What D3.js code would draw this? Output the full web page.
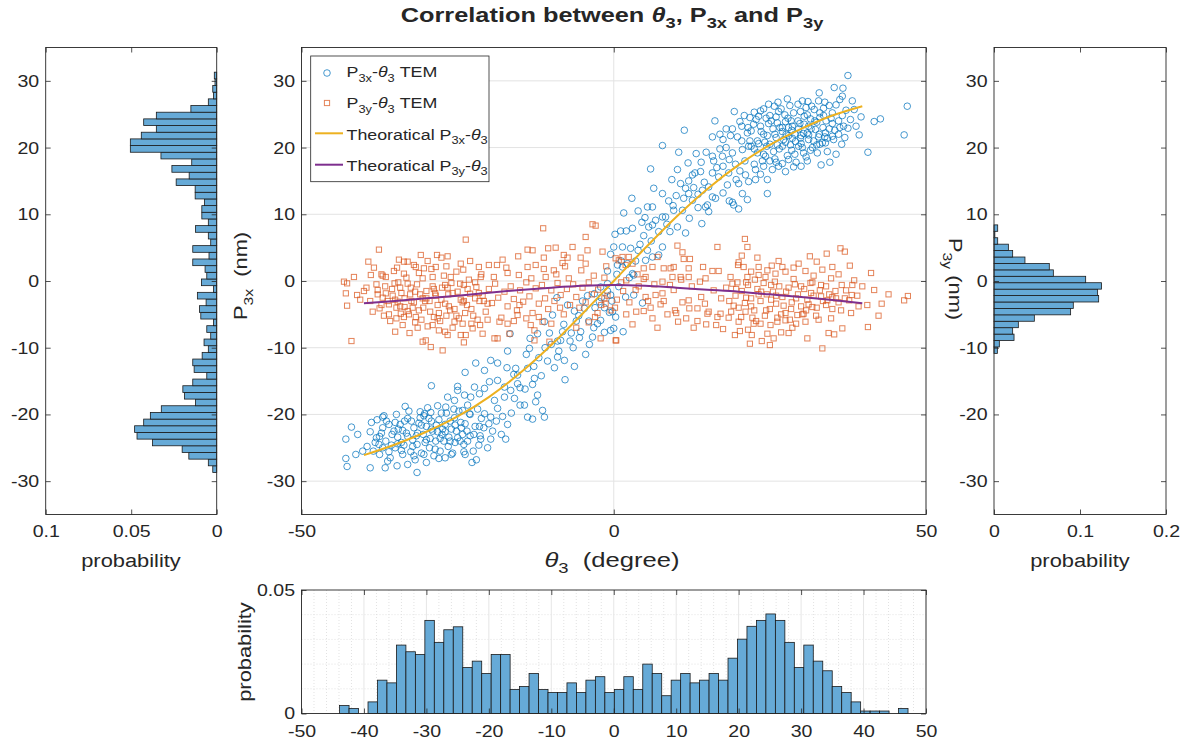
<!DOCTYPE html>
<html>
<head>
<meta charset="utf-8">
<script src="https://cdn.jsdelivr.net/npm/d3@7"></script>
<style>
  body { margin: 0; background: #fff; }
  text { font-family: "Liberation Sans", Arial, sans-serif; fill: #262626; white-space: pre; }
</style>
</head>
<body>
<svg id="fig" width="1182" height="745"></svg>
<script>
// ---- data ----
// theoretical curves
const theoryTheta = [-40, -35, -30, -25, -20, -15, -10, -5, 0, 5, 10, 15, 20, 25, 30, 35, 39.8];
const theoryP3x = [-26.1, -24.5, -22.6, -20.3, -17.4, -13.8, -9.6, -4.9, 0, 4.9, 9.6, 13.8, 17.4, 20.4, 22.8, 24.8, 26.2];
const theoryP3y = [-3.35, -3.0, -2.6, -2.2, -1.75, -1.35, -1.0, -0.72, -0.6, -0.72, -1.0, -1.3, -1.6, -2.0, -2.4, -2.85, -3.35];

// measured P3x vs theta3 (blue circles)
const p3xPoints = [
  [37.5,30.8],[35.3,29.0],[36.7,28.9],[36.6,27.7],[32.9,28.2],[47.0,26.2],[46.5,21.9],[40.7,19.3],[41.7,23.9],[42.7,24.3],[39.3,21.9],[38.5,25.7],[37.9,24.2],[37.5,22.9],[36.2,23.0],
  [31.1,26.9],[31.7,26.2],[32.1,25.7],[33.6,25.9],[35.0,25.2],[36.6,24.8],[27.8,27.3],[26.3,26.8],[25.7,26.2],[26.4,25.4],[27.4,24.9],[28.8,25.2],[29.9,25.4],[30.5,24.7],[19.3,25.4],[20.9,24.8],[22.5,25.3],[23.2,24.7],[24.4,24.4],[16.2,24.0],[20.2,23.9],[11.3,22.6],[7.8,20.3],
  [15.8,21.6],[17.5,21.2],[18.7,21.8],[19.8,21.6],[21.4,22.2],[22.4,23.5],[23.5,23.2],[24.8,23.6],[26.2,23.7],[27.5,23.9],[28.6,23.2],[29.6,22.8],[31.2,23.2],[32.3,22.7],[33.9,22.2],[35.0,21.7],[33.4,20.7],[31.2,21.2],[29.9,21.4],[28.6,21.4],
  [10.4,19.3],[13.2,19.1],[14.8,19.3],[15.8,18.7],[17.4,18.7],[19.0,19.2],[20.6,19.7],[21.6,20.2],[23.0,19.2],[24.3,18.7],[25.6,19.4],[27.0,20.2],[28.3,20.4],[29.6,20.2],[30.4,19.2],[32.6,19.2],[33.9,20.7],[35.2,21.2],
  [5.9,16.8],[11.9,17.7],[10.2,16.7],[12.6,15.9],[13.9,16.4],[15.8,16.2],[16.8,15.6],[18.4,16.2],[19.6,15.2],[21.1,15.9],[22.7,16.7],[24.0,17.2],[25.4,16.7],[26.4,17.2],[27.5,16.4],[28.8,17.1],[24.6,15.2],[22.7,15.2],[21.6,14.9],[20.0,14.6],[18.2,14.4],
  [9.3,15.2],[10.7,14.6],[11.5,13.9],[12.0,13.1],[11.2,12.4],[12.6,12.1],[14.2,13.6],[15.2,14.1],[16.3,12.4],[14.7,11.1],[15.8,12.6],
  [6.4,13.9],[7.8,13.1],[2.9,12.4],[1.6,10.2],[3.9,10.5],[5.4,11.1],[6.2,11.1],[7.8,9.6],[8.3,9.6],[9.6,10.6],[11.0,10.6],[12.1,9.4],[14.1,8.6],[15.0,11.4],[15.2,10.4],[19.2,11.4],[20.6,13.1],[21.4,12.2],[24.6,13.1],
  [1.1,7.5],[2.0,7.5],[3.0,7.9],[4.8,6.8],[5.6,8.1],[6.2,8.4],[6.7,9.1],[7.2,7.4],[7.8,5.1],[9.0,7.4],[10.2,8.1],[0.0,5.1],[1.4,5.1],[2.7,4.9],[3.9,4.6],[5.4,4.6],[6.2,3.6],[7.2,3.9],[5.1,3.1],[0.6,2.4],[1.4,2.1],[2.2,2.6],[3.0,1.1],[3.2,0.9],
  [22,22.5],[23,21.0],[24,22.0],[25,20.5],[25.5,22.8],[26,21.5],[27,22.4],[27.5,20.8],[28,23.0],[29,22.0],[29.5,24.0],[30,21.8],[30.5,23.5],[31,22.2],[31.5,24.3],[32,21.0],[32.5,23.8],[33,24.5],[33.5,23.0],[34,24.0],[34.5,22.8],[35,23.6],[36,22.0],
  [22.5,19.8],[23.8,18.0],[24.5,20.2],[25.8,18.3],[26.5,19.8],[27.8,18.8],[28.5,19.6],[29.2,17.8],[30.8,18.6],[31.8,20.0],[33,20.5],[34.2,19.4],[19,22.8],[20.5,21.0],[21.5,23.0],[18,20.0],[17,22.0],
  [23.5,25.5],[26.8,25.8],[28.2,26.3],[29.5,26.5],[30.2,27.0],[32.8,27.0],[33.8,26.8],[34.5,26.3],[24.8,26.5],[21.8,24.5],[25.2,24.0],[27,23.0],[28,21.8],[30,20.6],[31.2,21.9],[32.8,21.6],
  [24,19.0],[26,17.8],[21,18.0],[19.5,17.5],[17.5,17.2],[36.5,20.5],[37,21.5],[35.6,19.0],[34.6,17.8],[33.2,17.4],[13,16.2],[16,18.0],[14.5,14.8],[12.8,14.0],[10,12.8],[8.8,12.0],[9.5,11.3],
  [17.5,13.2],[18.5,12.0],[20,10.8],[19,11.8],[13.5,11.0],[4.5,8.8],[8.5,8.5],[11.5,7.2],
  [20.5,23.2],[21.8,21.0],[22.8,24.2],[23.6,22.4],[24.2,20.8],[25.0,24.8],[25.8,22.0],[26.6,23.0],[27.2,21.2],[27.9,24.4],[28.5,22.6],[29.1,20.9],[29.8,23.6],[30.4,22.1],[31.0,24.9],[31.6,22.8],
  [32.2,24.0],[32.9,22.0],[33.6,24.8],[34.2,21.4],[34.8,24.4],[35.4,22.6],[36.0,24.0],[36.8,23.2],[37.2,25.6],[22.0,20.2],[23.2,20.6],[24.6,21.8],[26.2,20.4],[27.6,22.0],[29.0,19.0],[30.2,20.0],
  [31.5,19.6],[32.5,20.4],[33.8,21.6],[25.0,18.0],[27.0,17.6],[28.0,18.2],[30.0,17.2],[31.0,18.0],[22.5,17.5],[23.5,16.0],[20.2,16.5],[18.5,18.2],[17.0,19.8],[16.5,17.0],[14.0,17.8],[12.0,15.0],
  [13.5,13.0],[18.0,22.8],[24.0,25.8],[26.0,24.6],[28.4,24.0],[30.8,26.0],[33.0,25.2],[35.6,26.4],[36.2,27.2],[38.2,27.0],[38.8,23.2],[39.6,24.6],
  [0.8,-0.85],[1.9,-2.4],[3.2,-2.1],[4.6,-3.3],[0.3,-5.4],[1.5,-7.6],[-0.2,-4.6],[0.0,-7.1],[0.5,1.0],[1.2,3.0],[2.5,0.5],[3.5,3.0],[4.2,5.5],[6.0,6.0],[5.0,9.5],[-1.0,1.5],[-0.5,4.0],[0.2,7.0],
  [-42.9,-26.6],[-42.7,-27.8],[-42.9,-23.7],[-42.0,-21.9],[-41.3,-26.0],[-39.0,-28.0],[-37.9,-20.8],[-37.0,-20.4],[-37.5,-23.3],[-36.6,-28.0],[-34.7,-27.7],[-31.5,-28.7],[-33.4,-18.8],[-29.2,-15.7],[-22.7,-27.2],
  [-25.0,-15.8],[-23.8,-13.7],[-22.1,-12.3],[-20.7,-13.4],[-19.7,-11.9],[-18.6,-12.3],[-17.0,-10.5],[-17.1,-13.0],[-15.7,-13.1],[-16.6,-7.9],[-13.5,-10.1],[-13.4,-8.6],[-12.2,-7.9],[-11.1,-6.1],[-10.3,-7.8],
  [-8.5,-8.9],[-9.5,-13.0],[-7.9,-11.9],[-7.8,-14.8],[-6.3,-12.8],[-9.0,-11.4],[-9.8,-5.1],[-9.1,-2.5],[-7.4,-3.6],[-6.3,-4.5],[-5.3,-7.6],[-3.9,-9.5],[-2.1,-5.9],[-1.5,-7.7],[-0.7,-4.7],[-0.5,-7.4],
  [-2.3,-3.1],[-2.1,-0.9],[-3.1,-1.9],[-4.7,-4.1],[-0.5,-2.1],[-1.0,-0.4],
  [-13.8,-13.1],[-12.7,-14.6],[-12.2,-17.1],[-11.4,-19.4],[-11.1,-20.4],[-13.0,-20.7],[-13.8,-20.4],[-12.5,-18.1],[-14.3,-18.6],[-15.9,-17.6],[-17.0,-21.5],[-17.3,-23.7],[-19.7,-23.7],[-21.3,-23.7],
  [-21.5,-21.8],[-19.4,-22.5],[-17.8,-20.3],[-18.6,-19.1],[-19.1,-17.9],[-17.5,-17.4],[-15.4,-15.4],[-16.5,-16.4],[-15.4,-14.1],[-17.5,-15.9],[-18.6,-14.9],[-19.9,-15.1],[-20.7,-16.1],[-22.3,-15.9],
  [-22.9,-17.4],[-21.5,-16.9],[-23.9,-17.1],[-24.2,-19.4],[-23.1,-19.9],[-21.8,-19.2],[-20.7,-19.9],[-19.7,-20.4],[-25.5,-17.9],[-25.0,-16.4],[-26.6,-17.4],[-26.9,-18.9],[-28.2,-18.7],[-29.3,-19.7],[-30.3,-19.9],
  [-38,-23.5],[-37,-22.0],[-36.5,-24.0],[-36,-21.5],[-35.5,-23.0],[-35,-25.0],[-34.5,-22.2],[-34,-24.2],[-33.5,-21.0],[-33,-23.3],[-32.5,-25.6],[-32,-22.0],[-31.5,-24.5],[-31,-20.5],[-30.5,-23.0],
  [-30,-21.8],[-29.5,-25.0],[-29,-22.5],[-28.5,-24.0],[-28,-20.8],[-27.5,-23.0],[-27,-21.5],[-26.5,-24.8],[-26,-22.2],[-25.5,-20.5],[-25,-23.5],[-24.5,-21.2],[-24,-24.5],[-23.5,-22.5],[-23,-20.0],[-22.5,-25.5],
  [-38.5,-25.5],[-37.5,-26.0],[-36.8,-20.2],[-35.8,-26.5],[-34.8,-20.0],[-33.8,-26.0],[-32.8,-19.5],[-31.8,-26.8],[-30.8,-25.8],[-29.8,-19.0],[-28.8,-26.2],[-27.8,-25.5],[-26.8,-19.8],[-25.8,-25.8],[-24.8,-19.5],[-23.8,-26.0],
  [-34.2,-21.5],[-33.2,-22.8],[-32.2,-23.8],[-31.2,-21.3],[-30.2,-24.2],[-29.2,-21.0],[-28.2,-22.6],[-27.2,-24.0],[-26.2,-21.0],[-25.2,-22.5],[-24.2,-23.0],[-35.2,-22.5],[-33.6,-24.6],[-32.4,-21.0],
  [-31.4,-22.8],[-30.4,-20.2],[-29.4,-23.6],[-28.4,-21.6],[-27.4,-22.2],[-26.4,-23.4],[-25.4,-24.2],[-24.4,-22.0],[-23.4,-24.0],[-22.4,-23.0],[-21.6,-24.6],[-20.8,-22.0],[-20.2,-25.0],
  [-37.6,-24.5],[-39.5,-24.8],[-40.2,-25.5],[-41.0,-23.0],[-38.8,-21.2],[-36.2,-27.0],[-33.0,-27.5],[-30.0,-27.2],[-27.0,-26.5],[-22.0,-26.8],[-34.6,-24.4],
  [-37.2,-22.8],[-36.4,-21.0],[-35.6,-24.6],[-34.6,-23.4],[-33.8,-22.4],[-33.0,-20.6],[-32.2,-24.8],[-31.6,-23.2],[-30.8,-21.6],[-30.0,-23.8],[-29.2,-22.2],[-28.6,-25.2],[-27.8,-23.6],[-27.0,-22.6],
  [-26.2,-24.0],[-25.4,-21.6],[-24.6,-24.0],[-23.8,-21.4],[-23.0,-23.2],[-22.2,-21.8],[-21.4,-23.2],[-36.0,-25.6],[-34.0,-25.4],[-32.0,-26.2],[-30.4,-26.0],[-28.0,-26.6],[-26.0,-26.0],[-24.0,-25.6],
  [-39.0,-22.6],[-38.2,-24.2],[-37.0,-25.0],[-35.0,-21.2],[-31.0,-19.6],[-29.6,-20.6],[-27.6,-19.8],[-25.6,-19.2],[-23.4,-18.6],[-21.2,-20.6],[-20.0,-21.4],[-18.8,-21.0],[-18.0,-23.0],[-16.4,-19.8],
  [-15.0,-18.6],[-14.2,-16.2],[-12.8,-12.8],[-11.6,-14.2],[-10.6,-12.0],[-9.0,-9.0],[-8.2,-7.6],[-6.8,-7.8],[-5.6,-5.2],[-4.2,-2.2],[-3.4,-8.4],[-2.6,-6.4],
  [-8,-6.5],[-7,-9],[-6,-6],[-5,-3],[-4,-6],[-3,-4],[-2,-2.5],[-1.5,-4],[-1,-1.5],[-0.3,-3],[-6.5,-10],[-5.5,-8.5],[-4.5,-11],[-3.2,-7],[-8.8,-10.5],[-10,-9.5],[-11,-10],[-12,-11.5],[-14,-11],[-13,-15.5],[-15,-16],[-16,-14]
];

// measured P3y vs theta3 (orange squares)
const p3yPoints = [
  [-11.3,7.9],[-23.7,6.2],[-37.6,4.7],[-3.4,8.5],[-2.9,8.3],[-4.5,6.6],[-39.3,2.9],[-30.9,3.9],[-28.3,3.9],[-27.6,3.5],[-26.6,3.7],[-33.6,2.9],[-33.0,2.9],[-34.7,2.0],[-31.7,2.1],[-30.4,1.9],
  [-28.5,2.1],[-24.5,2.6],[-24.1,1.7],[-21.6,2.1],[-20.0,2.4],[-18.7,2.4],[-17.0,1.2],[-15.3,3.7],[-13.8,4.7],[-13.0,4.6],[-12.5,2.4],[-11.2,3.5],[-10.5,4.9],[-9.3,5.0],[-8.0,3.9],[-7.4,3.5],
  [-6.6,5.1],[-5.3,3.5],[-4.2,4.6],[-4.5,2.6],[-8.2,2.7],[-9.6,1.6],[-10.9,0.6],[-13.8,2.1],[-21.3,0.6],[-38.9,0.9],[-37.0,0.8],[-36.5,0.6],[-33.6,1.1],[-29.0,0.6],[-26.1,0.6],[-43.2,-0.1],
  [-42.7,-0.35],[-42.9,-1.85],[-41.1,-2.1],[-42.7,-3.7],[-42.0,-9.0],[-37.8,-1.35],[-37.5,-4.1],[-36.5,-1.85],[-35.1,-0.35],[-34.6,-3.1],[-34.1,-4.9],[-33.5,-3.9],[-31.7,-5.4],[-32.7,-7.8],
  [-30.6,-9.1],[-30.1,-8.9],[-29.3,-9.9],[-29.0,-6.6],[-28.0,-7.4],[-27.4,-10.4],[-26.6,-8.1],[-25.5,-6.1],[-24.5,-8.1],[-23.7,-8.1],[-24.2,-6.4],[-22.6,-7.1],[-21.0,-7.9],[-19.1,-8.6],
  [-18.6,-8.6],[-16.7,-7.9],[-18.3,-6.1],[-17.0,-6.4],[-15.4,-5.1],[-15.1,-3.6],[-12.7,-7.4],[-12.7,-8.9],[-13.3,-6.6],[-11.4,-6.1],[-10.3,-9.1],[-2.1,-8.6],[-1.3,-3.4],[0.3,-8.9],[-1.5,-2.6],
  [-40,-1.5],[-39,-3],[-38,-0.5],[-37,-2.5],[-36,-3.5],[-35.5,-1.2],[-35,-2.8],[-34.5,-0.2],[-34,-1.8],[-33.5,-2.6],[-33,-4.5],[-32.5,-1.0],[-32,-3.2],[-31.5,-0.5],[-31,-2.0],[-30.5,-4.0],
  [-30,-1.5],[-29.5,-3.0],[-29,-0.8],[-28.5,-2.2],[-28,-4.8],[-27.5,-1.0],[-27,-3.4],[-26.5,-2.0],[-26,-0.3],[-25.5,-4.2],[-25,-1.6],[-24.5,-2.8],[-24,-0.6],[-23.5,-3.6],[-23,-1.9],[-22.5,-5.2],
  [-22,-0.9],[-21.5,-3.0],[-21,-2.2],[-20.5,-4.6],[-20,-1.2],[-19.5,-3.3],[-19,-0.4],[-18.5,-2.5],[-18,-5.5],[-17.5,-1.6],[-17,-3.8],[-16.5,-0.8],[-16,-2.7],[-15.5,-4.4],[-15,-1.4],[-14.5,-3.1],
  [-14,-0.2],[-13.5,-2.3],[-13,-4.8],[-12.5,-1.1],[-12,-3.4],[-11.5,-0.6],[-11,-2.6],[-10.5,-4.2],[-10,-1.4],[-9.5,-3.0],[-9,-0.3],[-8.5,-2.1],[-8,-5.0],[-7.5,-1.2],[-7,-3.6],[-6.5,-0.5],
  [-6,-2.4],[-5.5,-4.0],[-5,-1.0],[-4.5,-3.2],[-4,-0.2],[-3.5,-2.0],[-3,-5.4],[-2.5,-1.3],[-2,-3.6],[-1.5,0.5],[-1,-2.2],[-0.5,-4.4],
  [-36.8,-5.2],[-35.8,-6.0],[-34.8,-5.6],[-33.8,-6.6],[-32.8,-5.0],[-31.8,-6.2],[-30.8,-5.8],[-29.8,-6.8],[-28.8,-5.4],[-27.8,-6.0],[-26.8,-5.2],[-25.8,-7.0],[-24.8,-5.6],[-23.8,-4.8],[-22.8,-6.4],[-21.8,-5.8],
  [-37.2,1.0],[-35.2,1.5],[-33.2,0.5],[-31.2,1.2],[-29.2,1.8],[-27.2,0.8],[-25.2,1.4],[-23.2,0.2],[-21.2,1.0],[-19.2,0.6],[-17.2,2.0],[-15.2,0.9],[-13.2,0.4],[-11.2,1.8],[-9.2,1.0],[-7.2,0.4],[-5.2,1.6],[-3.2,0.8],[-1.2,2.2],
  [-36.2,-3.0],[-34.2,-3.8],[-32.2,-4.0],[-30.2,-3.0],[-28.2,-3.6],[-26.2,-4.4],[-24.2,-3.2],[-22.2,-2.6],[-20.2,-3.4],[-30.6,-2.6],[-28.6,-1.8],[-26.6,-1.0],[-32.6,-2.0],
  [-37.8,-2.0],[-37.2,-3.6],[-36.6,-0.8],[-36.0,-5.0],[-35.4,-2.2],[-34.8,-4.0],[-34.2,-1.0],[-33.6,-5.4],[-33.0,-0.4],[-32.4,-3.0],[-31.8,-1.6],[-31.2,-4.4],[-30.6,0.4],[-30.0,-2.6],[-29.4,-4.6],
  [-28.8,-1.2],[-28.2,-5.6],[-27.6,-2.8],[-27.0,-0.6],[-26.4,-3.8],[-25.8,-1.8],[-25.2,-5.2],[-24.6,-0.4],[-24.0,-3.0],[-23.4,-1.2],[-22.8,-4.2],[-22.2,-0.2],[-21.6,-1.8],[-20.8,-3.0],[-20.2,-5.8],
  [-38.6,-4.6],[-39.6,-1.0],[-40.6,-2.8],[-41.6,0.6],[-38.4,2.0],[-34.4,3.2],[-32.0,2.4],[-29.8,3.0],[-26.8,2.2],[-23.0,3.0],[-31.4,-7.0],[-27.0,-7.6],[-24.0,-9.2],[-35.0,-7.6],[-21.4,-6.6],
  [-16.0,-6.0],[-14.0,-5.6],[-12.0,-5.4],[-10.0,-6.4],[-8.6,-4.0],[-6.0,-7.0],[-4.0,-6.2],[-2.6,-4.8],[0.2,-4.0],[1.2,-0.2],[3.6,-4.6],[6.2,-5.6],[8.6,-5.0],[11.6,-5.6],[14.6,-3.4],[16.4,-6.6],
  [-17.8,3.2],[-7.8,2.2],[-1.8,4.4],[3.8,1.0],[7.0,3.6],
  [0.4,-8.9],[4.8,-4.5],[5.9,-4.0],[7.5,-3.5],[9.8,-4.4],[10.3,-6.1],[12.1,-4.1],[13.4,-6.0],[14.8,-6.5],[15.0,-4.9],[16.6,-5.4],[18.4,-5.5],[19.4,-8.1],[20.2,-7.5],[21.5,-7.3],[22.1,-8.1],
  [23.7,-9.0],[24.6,-7.9],[25.6,-8.6],[26.8,-7.7],[28.6,-7.0],[33.4,-10.1],[34.4,-7.8],[35.3,-8.0],[36.6,-7.1],[40.7,-6.9],[42.9,-3.4],[41.7,-1.35],[46.5,-2.9],[47.1,-2.25],[39.2,-3.8],[38.2,-0.6],
  [38.1,-2.1],[37.7,-2.9],[34.2,-2.9],[35.0,-2.4],[31.8,-3.9],[32.8,-5.8],[30.7,-6.1],[30.4,-4.9],[29.4,-5.1],[27.5,-5.9],[26.2,-6.1],[25.1,-6.6],[23.5,-6.4],[22.4,-6.4],[22.2,-5.5],[21.1,-4.6],
  [20.0,-6.1],[17.1,-4.9],[15.2,-4.6],[13.4,-4.1],[12.0,-2.9],[9.6,-1.35],[7.8,-1.85],[6.7,-2.1],[5.1,-2.4],[3.5,-1.35],
  [18,-1.0],[18.5,-3.0],[19,-0.4],[19.5,-2.2],[20,-4.0],[20.5,-1.5],[21,-3.3],[21.5,-0.6],[22,-2.6],[22.5,-4.4],[23,-1.2],[23.5,-3.0],[24,-0.3],[24.5,-2.0],[25,-4.2],[25.5,-1.6],
  [26,-3.4],[26.5,-0.8],[27,-2.4],[27.5,-4.8],[28,-1.0],[28.5,-3.2],[29,-0.5],[29.5,-2.0],[30,-3.8],[30.5,-1.2],[31,-2.8],[31.5,-0.3],[32,-2.2],[32.5,-4.0],[33,-1.4],[33.5,-3.0],
  [34,-0.8],[34.5,-2.0],[35,-4.2],[35.5,-1.5],[36,-3.2],[36.5,-0.6],[37,-2.6],[24.2,-5.2],[26.2,-5.5],[28.2,-5.8],[30.2,-5.0],[27.2,-3.7],[25.2,-2.8],[23.2,-2.0],[29.2,-2.6],[31.2,-3.5],
  [33.2,-2.3],[21.2,-2.5],[19.2,-3.7],[17.2,-2.6],[16,-1.4],[14,-2.4],[12.5,-0.8],[11,-3.2],[9,-0.6],[8,-3.0],[6.5,-0.5],[5.5,-3.0],[4,-0.8],[2.5,-3.2],[1.5,-1.5],[0.5,-2.8],
  [2,-5.0],[10,-4.8],[3,-6.5],[7,-7.0],[12.8,-7.0],[17.5,-7.2],
  [18.8,-4.6],[19.6,-1.2],[20.4,-5.4],[21.2,-0.2],[22.0,-3.8],[22.8,-6.0],[23.6,-1.6],[24.4,-4.4],[25.2,-0.6],[26.0,-2.2],[26.8,-5.0],[27.6,-1.6],[28.4,-4.2],[29.2,-6.4],[30.0,-0.8],[30.8,-4.4],
  [31.6,-1.8],[32.4,-5.2],[33.2,-0.6],[34.0,-3.6],[34.8,-5.6],[35.6,-2.6],[36.4,-4.4],[37.2,-1.4],[38.0,-4.8],[39.0,-2.2],[39.8,-0.8],[40.6,-3.6],[41.2,1.2],[42.4,-5.2],[44.0,-2.0],
  [20.0,2.8],[22.0,1.4],[26.4,3.0],[29.6,2.6],[32.0,0.8],[36.0,1.0],[28.0,-7.8],[31.0,-8.6],[25.0,-9.6],[21.8,-9.4],
  [21.0,6.3],[21.4,5.1],[16.6,5.1],[10.2,5.3],[11.0,4.3],[12.2,3.3],[11.2,3.3],[14.3,2.1],[15.8,1.5],[16.8,1.5],[12.0,1.9],[9.1,1.9],[9.6,2.1],[8.0,1.9],[6.2,2.1],[4.8,1.9],
  [5.1,0.6],[0.8,3.1],[0.3,3.4],[1.4,3.6],[2.4,3.6],[3.0,2.6],[1.9,2.4],[20.5,3.8],[23.0,3.5],[25.3,2.3],[27.0,2.1],[28.8,2.0],[31.4,3.7],[32.5,2.9],[34.1,4.1],[36.3,4.9],
  [37.0,4.4],[37.8,2.3],[35.0,2.1],[33.4,1.7],[30.7,1.5],[23.2,2.1],[20.8,2.1],[19.9,2.4],[24.6,1.6],[25.9,1.1],[27.5,1.4],[23.2,0.9],[24.3,0.6],[21.4,0.6],[18.7,0.6],[12.0,0.6],
  [14.7,0.4],[38.5,0.1],[10.7,0.6],[9.4,0.6],
  [19.8,-0.2],[22.6,0.2],[25.8,-0.1],[28.8,0.3],[31.8,-0.2],[34.8,0.4],[13.8,-0.1],[10.8,0.2],[7.8,-0.1],[4.8,0.3],[2,0.1]
];

// histograms (probability per bin)
const bottomBinStart = -43.9, bottomBinWidth = 1.517;
const bottomHistProb = [0.0032, 0.0020, 0, 0.0047, 0.0135, 0.0124, 0.0277, 0.025, 0.0239, 0.0377,
  0.0288, 0.0339, 0.0351, 0.0186, 0.0212, 0.0162, 0.0239, 0.0239, 0.0097, 0.0109,
  0.0162, 0.0097, 0.0085, 0.0085, 0.0124, 0.0085, 0.0135, 0.0149, 0.0085, 0.0097,
  0.0149, 0.0097, 0.020, 0.0162, 0.0072, 0.0135, 0.0162, 0.0124, 0.0135, 0.0162,
  0.0135, 0.0224, 0.0301, 0.0353, 0.0377, 0.0403, 0.0377, 0.0288, 0.0186, 0.0277,
  0.0212, 0.0173, 0.0109, 0.0085, 0.0047, 0.001, 0.001, 0.001, 0, 0.002];

const leftBinStart = -28.7, leftBinWidth = 1.0;
const leftHistProb = [0.0023, 0.0049, 0.0163, 0.0202, 0.0375, 0.0466, 0.048, 0.0427, 0.0388, 0.0324,
  0.0124, 0.0188, 0.0198, 0.014, 0.0058, 0.0132, 0.014, 0.0085, 0.0049, 0.0074,
  0.0035, 0.0058, 0.0019, 0.0093, 0.0101, 0.0062, 0.0113, 0.0019, 0.0089, 0.0058,
  0.0068, 0.014, 0.0045, 0.014, 0.0035, 0.0049, 0.0124, 0.0049, 0.0087, 0.0087,
  0.0072, 0.0126, 0.0126, 0.0237, 0.0161, 0.0262, 0.0146, 0.0326, 0.0505, 0.0505,
  0.0441, 0.0353, 0.0427, 0.0353, 0.0151, 0.0049, 0.0019, 0.0023, 0.001, 0.0014];

const rightBinStart = -10.85, rightBinWidth = 0.963;
const rightHistProb = [0.0039, 0.0062, 0.0233, 0.0217, 0.0283, 0.0469, 0.0891, 0.0922, 0.1217, 0.1205,
  0.125, 0.1066, 0.069, 0.0643, 0.036, 0.0217, 0.0167, 0.0043, 0.001, 0.0043];

// ticks
const mainXTicks = [-50, 0, 50];
const mainYTicks = [-30, -20, -10, 0, 10, 20, 30];
const leftXTicks = [0.1, 0.05, 0];
const rightXTicks = [0, 0.1, 0.2];
const bottomXTicks = [-50, -40, -30, -20, -10, 0, 10, 20, 30, 40, 50];
const bottomYTicks = [0, 0.05];

// ---- drawing ----
const svg = d3.select("#fig");
svg.append("rect").attr("width", 1182).attr("height", 745).attr("fill", "#fff");

const sx = 1.15;        // text in the picture is a bit wider than Arial
const ink = "#262626";
const fontFam = "Liberation Sans, Arial, sans-serif";

// text with sub-scripts: "_3x" -> subscript, "~θ" -> italic
function rich(g, x, y, parts, o = {}) {
  const size = o.size || 17;
  const t = g.append("text")
    .attr("transform", `translate(${x},${y}) rotate(${o.rot || 0}) scale(${o.sx || sx},1)`)
    .attr("text-anchor", o.anchor || "start")
    .style("font-size", size + "px")
    .style("font-weight", o.bold ? "bold" : "normal");
  let shift = 0;
  parts.forEach(p => {
    let s = p, sub = false, it = false;
    if (p[0] === "_") { sub = true; s = p.slice(1); }
    if (p[0] === "~") { it = true; s = p.slice(1); }
    const target = sub ? size * 0.3 : 0;
    t.append("tspan")
      .attr("dy", target - shift)
      .style("font-size", (sub ? size * 0.72 : size) + "px")
      .style("font-style", it ? "italic" : "normal")
      .text(s);
    shift = target;
  });
  return t;
}

function tidyAxis(g, side) {
  g.attr("font-size", 17).attr("font-family", fontFam);
  g.select(".domain").remove();
  g.selectAll(".tick line").attr("stroke", ink).attr("stroke-width", 0.8);
  g.selectAll(".tick text").attr("fill", ink).attr("transform", `scale(${sx},1)`);
  if (side === "left") g.selectAll(".tick text").attr("x", -6.5 / sx);
}

function frame(x0, x1, y0, y1) {
  svg.append("rect").attr("x", x0).attr("y", y0).attr("width", x1 - x0).attr("height", y1 - y0)
    .attr("fill", "none").attr("stroke", ink).attr("stroke-width", 0.9);
}

const fmt = d => String(d);

// ===== main scatter =====
const mx0 = 301.5, mx1 = 926, my0 = 47.5, my1 = 514.5;
const x = d3.scaleLinear().domain([-50, 50]).range([mx0, mx1]);
const y = d3.scaleLinear().domain([-35, 35]).range([my1, my0]);

const grid = svg.append("g").attr("stroke", "#e3e3e3").attr("stroke-width", 1);
mainYTicks.forEach(v => grid.append("line").attr("x1", mx0).attr("x2", mx1).attr("y1", y(v)).attr("y2", y(v)));
mainXTicks.forEach(v => grid.append("line").attr("x1", x(v)).attr("x2", x(v)).attr("y1", my0).attr("y2", my1));

svg.append("clipPath").attr("id", "clipMain").append("rect")
  .attr("x", mx0).attr("y", my0).attr("width", mx1 - mx0).attr("height", my1 - my0);
const plot = svg.append("g").attr("clip-path", "url(#clipMain)");

plot.append("g").selectAll("circle").data(p3xPoints).join("circle")
  .attr("cx", d => x(d[0])).attr("cy", d => y(d[1])).attr("r", 3.3)
  .attr("fill", "none").attr("stroke", "#0072BD").attr("stroke-width", 1).attr("stroke-opacity", 0.72);

plot.append("g").selectAll("rect").data(p3yPoints).join("rect")
  .attr("x", d => x(d[0]) - 2.6).attr("y", d => y(d[1]) - 2.6).attr("width", 5.2).attr("height", 5.2)
  .attr("fill", "none").attr("stroke", "#D95319").attr("stroke-width", 1).attr("stroke-opacity", 0.72);

const theory = theoryTheta.map((t, i) => ({t, px: theoryP3x[i], py: theoryP3y[i]}));
plot.append("path").datum(theory)
  .attr("d", d3.line().x(d => x(d.t)).y(d => y(d.px)).curve(d3.curveMonotoneX))
  .attr("fill", "none").attr("stroke", "#EDB120").attr("stroke-width", 2);
plot.append("path").datum(theory)
  .attr("d", d3.line().x(d => x(d.t)).y(d => y(d.py)).curve(d3.curveMonotoneX))
  .attr("fill", "none").attr("stroke", "#7E2F8E").attr("stroke-width", 2);

frame(mx0, mx1, my0, my1);
svg.append("g").attr("transform", `translate(0,${my1})`)
  .call(d3.axisBottom(x).tickValues(mainXTicks).tickFormat(fmt).tickSizeInner(-5).tickSizeOuter(0).tickPadding(10.5))
  .call(g => tidyAxis(g, "bottom"));
svg.append("g").attr("transform", `translate(0,${my0})`)
  .call(d3.axisTop(x).tickValues(mainXTicks).tickFormat("").tickSizeInner(-5).tickSizeOuter(0))
  .call(g => tidyAxis(g, "top"));
svg.append("g").attr("transform", `translate(${mx0},0)`)
  .call(d3.axisLeft(y).tickValues(mainYTicks).tickFormat(fmt).tickSizeInner(-5).tickSizeOuter(0))
  .call(g => tidyAxis(g, "left"));
svg.append("g").attr("transform", `translate(${mx1},0)`)
  .call(d3.axisRight(y).tickValues(mainYTicks).tickFormat("").tickSizeInner(-5).tickSizeOuter(0))
  .call(g => tidyAxis(g, "right"));

// legend
const lg = svg.append("g");
lg.append("rect").attr("x", 310.7).attr("y", 56).attr("width", 178.3).attr("height", 125.7)
  .attr("fill", "#fff").attr("stroke", ink).attr("stroke-width", 0.8);
lg.append("circle").attr("cx", 327).attr("cy", 73).attr("r", 3.3)
  .attr("fill", "none").attr("stroke", "#0072BD").attr("stroke-width", 1).attr("stroke-opacity", 0.72);
lg.append("rect").attr("x", 324.4).attr("y", 100.4).attr("width", 5.2).attr("height", 5.2)
  .attr("fill", "none").attr("stroke", "#D95319").attr("stroke-width", 1).attr("stroke-opacity", 0.72);
lg.append("line").attr("x1", 315).attr("x2", 343).attr("y1", 133.3).attr("y2", 133.3)
  .attr("stroke", "#EDB120").attr("stroke-width", 2);
lg.append("line").attr("x1", 315).attr("x2", 343).attr("y1", 164.7).attr("y2", 164.7)
  .attr("stroke", "#7E2F8E").attr("stroke-width", 2);
rich(lg, 346.5, 77, ["P", "_3x", "-", "~θ", "_3", " TEM"], {size: 15.5});
rich(lg, 346.5, 108, ["P", "_3y", "-", "~θ", "_3", " TEM"], {size: 15.5});
rich(lg, 346.5, 139.5, ["Theoratical P", "_3x", "-", "~θ", "_3"], {size: 15.5});
rich(lg, 346.5, 170.5, ["Theoratical P", "_3y", "-", "~θ", "_3"], {size: 15.5});

// title and labels
rich(svg, 612, 22, ["Correlation between ", "~θ", "_3", ", P", "_3x", " and P", "_3y"], {size: 19.5, sx: 1.3, bold: true, anchor: "middle"});
rich(svg, 612, 567, ["~θ", "_3", "  (degree)"], {size: 20, sx: 1.28, anchor: "middle"});
rich(svg, 247, 276, ["P", "_3x", "  (nm)"], {size: 19, anchor: "middle", rot: -90});

// ===== left histogram (P3x) =====
const lx = d3.scaleLinear().domain([0.1, 0]).range([45.7, 216.7]);
svg.append("g").selectAll("rect").data(leftHistProb).join("rect")
  .attr("x", d => lx(d)).attr("width", d => lx(0) - lx(d))
  .attr("y", (d, i) => y(leftBinStart + (i + 1) * leftBinWidth))
  .attr("height", (d, i) => y(leftBinStart + i * leftBinWidth) - y(leftBinStart + (i + 1) * leftBinWidth))
  .attr("fill", "#66AAD7").attr("stroke", "#1a1a1a").attr("stroke-width", 0.8)
  .attr("display", d => d > 0 ? null : "none");
frame(45.7, 216.7, my0, my1);
svg.append("g").attr("transform", `translate(0,${my1})`)
  .call(d3.axisBottom(lx).tickValues(leftXTicks).tickFormat(fmt).tickSizeInner(-5).tickSizeOuter(0).tickPadding(10.5))
  .call(g => tidyAxis(g, "bottom"));
svg.append("g").attr("transform", `translate(0,${my0})`)
  .call(d3.axisTop(lx).tickValues(leftXTicks).tickFormat("").tickSizeInner(-5).tickSizeOuter(0))
  .call(g => tidyAxis(g, "top"));
svg.append("g").attr("transform", `translate(45.7,0)`)
  .call(d3.axisLeft(y).tickValues(mainYTicks).tickFormat(fmt).tickSizeInner(-5).tickSizeOuter(0))
  .call(g => tidyAxis(g, "left"));
svg.append("g").attr("transform", `translate(216.7,0)`)
  .call(d3.axisRight(y).tickValues(mainYTicks).tickFormat("").tickSizeInner(-5).tickSizeOuter(0))
  .call(g => tidyAxis(g, "right"));
rich(svg, 131, 567, ["probability"], {size: 19, anchor: "middle"});

// ===== right histogram (P3y) =====
const rx = d3.scaleLinear().domain([0, 0.2]).range([994, 1166]);
svg.append("g").selectAll("rect").data(rightHistProb).join("rect")
  .attr("x", rx(0)).attr("width", d => rx(d) - rx(0))
  .attr("y", (d, i) => y(rightBinStart + (i + 1) * rightBinWidth))
  .attr("height", (d, i) => y(rightBinStart + i * rightBinWidth) - y(rightBinStart + (i + 1) * rightBinWidth))
  .attr("fill", "#66AAD7").attr("stroke", "#1a1a1a").attr("stroke-width", 0.8);
frame(994, 1166, my0, my1);
svg.append("g").attr("transform", `translate(0,${my1})`)
  .call(d3.axisBottom(rx).tickValues(rightXTicks).tickFormat(fmt).tickSizeInner(-5).tickSizeOuter(0).tickPadding(10.5))
  .call(g => tidyAxis(g, "bottom"));
svg.append("g").attr("transform", `translate(0,${my0})`)
  .call(d3.axisTop(rx).tickValues(rightXTicks).tickFormat("").tickSizeInner(-5).tickSizeOuter(0))
  .call(g => tidyAxis(g, "top"));
svg.append("g").attr("transform", `translate(994,0)`)
  .call(d3.axisLeft(y).tickValues(mainYTicks).tickFormat(fmt).tickSizeInner(-5).tickSizeOuter(0))
  .call(g => tidyAxis(g, "left"));
svg.append("g").attr("transform", `translate(1166,0)`)
  .call(d3.axisRight(y).tickValues(mainYTicks).tickFormat("").tickSizeInner(-5).tickSizeOuter(0))
  .call(g => tidyAxis(g, "right"));
rich(svg, 1080, 567, ["probability"], {size: 19, anchor: "middle"});
rich(svg, 949, 238, ["P", "_3y", " (nm)"], {size: 19, anchor: "start", rot: 90});

// ===== bottom histogram (theta3) =====
const by0 = 590, by1 = 713.5;
const by = d3.scaleLinear().domain([0, 0.05]).range([by1, by0]);
const bgrid = svg.append("g");
d3.range(-48, 50, 2).filter(v => v % 10 !== 0).forEach(v =>
  bgrid.append("line").attr("x1", x(v)).attr("x2", x(v)).attr("y1", by0).attr("y2", by1)
    .attr("stroke", "#e2e2e2").attr("stroke-dasharray", "1,2"));
[0.01, 0.02, 0.03, 0.04].forEach(v =>
  bgrid.append("line").attr("x1", mx0).attr("x2", mx1).attr("y1", by(v)).attr("y2", by(v))
    .attr("stroke", "#e2e2e2").attr("stroke-dasharray", "1,2"));
bottomXTicks.forEach(v =>
  bgrid.append("line").attr("x1", x(v)).attr("x2", x(v)).attr("y1", by0).attr("y2", by1)
    .attr("stroke", "#e6e6e6"));

svg.append("g").selectAll("rect").data(bottomHistProb).join("rect")
  .attr("x", (d, i) => x(bottomBinStart + i * bottomBinWidth))
  .attr("width", (d, i) => x(bottomBinStart + (i + 1) * bottomBinWidth) - x(bottomBinStart + i * bottomBinWidth))
  .attr("y", d => by(d)).attr("height", d => by(0) - by(d))
  .attr("fill", "#66AAD7").attr("stroke", "#1a1a1a").attr("stroke-width", 0.8)
  .attr("display", d => d > 0 ? null : "none");
frame(mx0, mx1, by0, by1);
svg.append("g").attr("transform", `translate(0,${by1})`)
  .call(d3.axisBottom(x).tickValues(bottomXTicks).tickFormat(fmt).tickSizeInner(-5).tickSizeOuter(0).tickPadding(11))
  .call(g => tidyAxis(g, "bottom"));
svg.append("g").attr("transform", `translate(0,${by0})`)
  .call(d3.axisTop(x).tickValues(bottomXTicks).tickFormat("").tickSizeInner(-5).tickSizeOuter(0))
  .call(g => tidyAxis(g, "top"));
svg.append("g").attr("transform", `translate(${mx0},0)`)
  .call(d3.axisLeft(by).tickValues(bottomYTicks).tickFormat(fmt).tickSizeInner(-5).tickSizeOuter(0))
  .call(g => tidyAxis(g, "left"));
svg.append("g").attr("transform", `translate(${mx1},0)`)
  .call(d3.axisRight(by).tickValues(bottomYTicks).tickFormat("").tickSizeInner(-5).tickSizeOuter(0))
  .call(g => tidyAxis(g, "right"));
rich(svg, 251, 652, ["probability"], {size: 19, anchor: "middle", rot: -90});
</script>
</body>
</html>
